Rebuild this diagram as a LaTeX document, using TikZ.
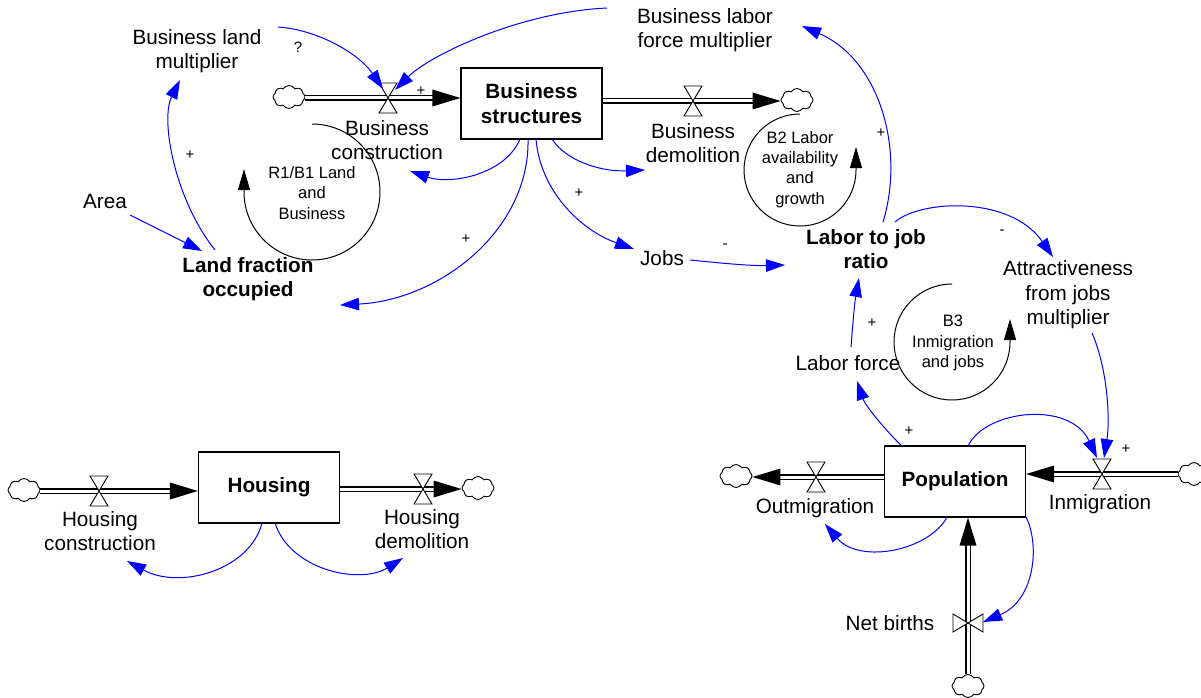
\documentclass[tikz,border=0pt]{standalone}
\usepackage{fontspec}
\setmainfont{Liberation Sans}
\usetikzlibrary{arrows.meta,shapes.symbols,calc}
\definecolor{linkblue}{RGB}{0,0,255}
\tikzset{
  lbl/.style={align=center, font=\fontsize{20.7}{24.5}\selectfont, inner sep=0pt},
  blbl/.style={align=center, font=\fontsize{20.7}{24.5}\selectfont\bfseries, inner sep=0pt},
  stock/.style={draw, line width=1.2pt, minimum width=141pt, minimum height=71pt, align=center,
    font=\fontsize{20.7}{24.5}\selectfont\bfseries, fill=white},
  looplbl/.style={align=center, font=\fontsize{16.5}{20.2}\selectfont, inner sep=0pt},
  sign/.style={font=\fontsize{15}{16}\selectfont, inner sep=0pt},
  cloudnode/.style={cloud, cloud puffs=8, cloud puff arc=120, aspect=1.4, draw, line width=0.9pt,
    minimum width=32pt, minimum height=23pt, inner sep=0pt, fill=white},
  pipe/.style={draw=black, double=white, double distance=3pt, line width=1.1pt},
  valve/.style={draw=black, fill=white, line width=0.9pt},
  link/.style={draw=linkblue, line width=1pt, -{Triangle[length=19pt,width=12.5pt,fill=linkblue]}},
  fbloop/.style={draw=black, line width=1pt, -{Triangle[length=21pt,width=12pt]}},
  phead/.pic={\fill[black] (0,0) -- (-28,8.5) -- (-28,-8.5) -- cycle;}
}
\begin{document}
\begin{tikzpicture}[x=1pt,y=-1pt]
\useasboundingbox (0,0) rectangle (1201,698);

% ---------- Business structures ----------
\node[stock] (bs) at (531.5,103.5) {Business\\structures};
\node[cloudnode] (c1) at (289,97) {};
\coordinate (v1) at (388,98);
\draw[pipe, shorten >=14pt] (c1.east |- v1) -- (bs.west |- v1);
\pic at (bs.west |- v1) {phead};
\draw[valve, shift={(v1)}] (-9,-15) -- (9,-15) -- (-9,15) -- (9,15) -- cycle;
\node[lbl] (bc) at (387,140) {Business\\construction};

\node[cloudnode] (c2) at (797,100) {};
\coordinate (v2) at (693,101);
\draw[pipe, shorten >=14pt] (bs.east |- v2) -- (c2.west |- v2);
\pic at (c2.west |- v2) {phead};
\draw[valve, shift={(v2)}] (-9,-15) -- (9,-15) -- (-9,15) -- (9,15) -- cycle;
\node[lbl] (bd) at (693,143) {Business\\demolition};

% ---------- Housing ----------
\node[stock] (hs) at (269,487.5) {Housing};
\node[cloudnode] (c3) at (24,490) {};
\coordinate (v3) at (99,491);
\draw[pipe, shorten >=14pt] (c3.east |- v3) -- (hs.west |- v3);
\pic at (hs.west |- v3) {phead};
\draw[valve, shift={(v3)}] (-9,-15) -- (9,-15) -- (-9,15) -- (9,15) -- cycle;
\node[lbl] (hc) at (100,531) {Housing\\construction};

\node[cloudnode] (c4) at (478,488) {};
\coordinate (v4) at (423,489);
\draw[pipe, shorten >=14pt] (hs.east |- v4) -- (c4.west |- v4);
\pic at (c4.west |- v4) {phead};
\draw[valve, shift={(v4)}] (-9,-15) -- (9,-15) -- (-9,15) -- (9,15) -- cycle;
\node[lbl] (hd) at (422,529) {Housing\\demolition};

% ---------- Population ----------
\node[stock] (pop) at (955,481.5) {Population};
\node[cloudnode] (c5) at (736,476) {};
\coordinate (v5) at (816,477);
\draw[pipe, shorten >=14pt] (pop.west |- v5) -- (c5.east |- v5);
\pic[rotate=180] at (c5.east |- v5) {phead};
\draw[valve, shift={(v5)}] (-9,-15) -- (9,-15) -- (-9,15) -- (9,15) -- cycle;
\node[lbl] (om) at (815,508) {Outmigration};

\node[cloudnode] (c6) at (1194,474) {};
\coordinate (v6) at (1102,474);
\draw[pipe, shorten >=14pt] (c6.west |- v6) -- (pop.east |- v6);
\pic[rotate=180] at (pop.east |- v6) {phead};
\draw[valve, shift={(v6)}] (-9,-15) -- (9,-15) -- (-9,15) -- (9,15) -- cycle;
\node[lbl] (im) at (1100,504) {Inmigration};

\node[cloudnode] (c7) at (968,686) {};
\coordinate (v7) at (968,623);
\draw[pipe, shorten >=14pt] (c7.north) -- (pop.south -| c7);
\pic[rotate=90] at (pop.south -| c7) {phead};
\draw[valve, shift={(v7)}] (-15,-9) -- (-15,9) -- (15,-9) -- (15,9) -- cycle;
\node[lbl] (nb) at (890,623) {Net births};

% ---------- auxiliaries ----------
\node[lbl] (blm) at (197,51) {Business land\\multiplier};
\node[lbl] (blfm) at (705,30) {Business labor\\force multiplier};
\node[lbl] (area) at (105,201) {Area};
\node[blbl] (lfo) at (248,279) {Land fraction\\occupied};
\node[lbl] (jobs) at (662,258) {Jobs};
\node[blbl] (ljr) at (866,249) {Labor to job\\ratio};
\node[lbl] (attr) at (1068,295) {Attractiveness\\from jobs\\multiplier};
\node[lbl] (lf) at (848,363) {Labor force};

% ---------- loops ----------
\draw[fbloop] (312,124) arc[start angle=-90, end angle=180, radius=68] -- ++(0,-23);
\node[looplbl] (r1) at (312,193) {R1/B1 Land\\and\\Business};
\draw[fbloop] (800,114) arc[start angle=-90, end angle=-360, radius=56] -- ++(0,-23);
\node[looplbl] (b2) at (800,169.5) {B2 Labor\\availability\\and\\growth};
\draw[fbloop] (952,284) arc[start angle=-90, end angle=-360, radius=58] -- ++(0,-23);
\node[looplbl] (b3) at (953,343) {B3\\Inmigration\\and jobs};

% ---------- link end points ----------
\coordinate (l1s) at (278,27);   \coordinate (l1e) at (383,89);
\coordinate (l2s) at (607,8);    \coordinate (l2e) at (395,90);
\coordinate (l3s) at (520,139);  \coordinate (l3e) at (410,171);
\coordinate (l4s) at (552,139);  \coordinate (l4e) at (645,170);
\coordinate (l5s) at (536,139);  \coordinate (l5e) at (634,249);
\coordinate (l6s) at (528,139);  \coordinate (l6e) at (340,305);
\coordinate (l7s) at (130,215);  \coordinate (l7e) at (202,251);
\coordinate (l8s) at (215,250);  \coordinate (l8e) at (180,80);
\coordinate (l9s) at (690,260);  \coordinate (l9e) at (785,265);
\coordinate (l10s) at (883,222); \coordinate (l10e) at (802,26);
\coordinate (l11s) at (895,222); \coordinate (l11e) at (1053,257);
\coordinate (l12s) at (1092,333);\coordinate (l12e) at (1104,458);
\coordinate (l13s) at (968,446); \coordinate (l13e) at (1097,458);
\coordinate (l14s) at (902,446); \coordinate (l14e) at (857,381);
\coordinate (l15s) at (851,347); \coordinate (l15e) at (859,278);
\coordinate (l16s) at (947,517); \coordinate (l16e) at (825,524);
\coordinate (l17s) at (1026,517);\coordinate (l17e) at (983,622);
\coordinate (l18s) at (262,523); \coordinate (l18e) at (127,561);
\coordinate (l19s) at (275,523); \coordinate (l19e) at (403,558);

% ---------- links ----------
\draw[link] (l1s) .. controls (320,30) and (360,55) .. (l1e);
\draw[link] (l2s) .. controls (520,12) and (430,55) .. (l2e);
\draw[link] (l3s) .. controls (505,175) and (450,185) .. (l3e);
\draw[link] (l4s) .. controls (565,160) and (600,172) .. (l4e);
\draw[link] (l5s) .. controls (540,190) and (580,230) .. (l5e);
\draw[link] (l6s) .. controls (530,230) and (440,300) .. (l6e);
\draw[link] (l7s) -- (l7e);
\draw[link] (l8s) .. controls (175,200) and (160,120) .. (l8e);
\draw[link] (l9s) .. controls (720,263) and (750,266) .. (l9e);
\draw[link] (l10s) .. controls (905,150) and (880,60) .. (l10e);
\draw[link] (l11s) .. controls (920,200) and (1010,195) .. (l11e);
\draw[link] (l12s) .. controls (1108,370) and (1110,420) .. (l12e);
\draw[link] (l13s) .. controls (985,410) and (1070,400) .. (l13e);
\draw[link] (l14s) .. controls (885,430) and (865,405) .. (l14e);
\draw[link] (l15s) .. controls (853,320) and (855,300) .. (l15e);
\draw[link] (l16s) .. controls (930,550) and (860,565) .. (l16e);
\draw[link] (l17s) .. controls (1040,545) and (1035,600) .. (l17e);
\draw[link] (l18s) .. controls (250,570) and (180,590) .. (l18e);
\draw[link] (l19s) .. controls (290,570) and (360,585) .. (l19e);

% ---------- polarity signs ----------
\node[sign] (s1) at (298,47) {?};
\node[sign] (s2) at (421,91) {+};
\node[sign] (s3) at (190,155) {+};
\node[sign] (s4) at (466,239) {+};
\node[sign] (s5) at (579,193) {+};
\node[sign] (s6) at (725,246) {-};
\node[sign] (s7) at (881,133) {+};
\node[sign] (s8) at (1002,232) {-};
\node[sign] (s9) at (872,323) {+};
\node[sign] (s10) at (909,431) {+};
\node[sign] (s11) at (1126,449) {+};
\end{tikzpicture}
\end{document}
